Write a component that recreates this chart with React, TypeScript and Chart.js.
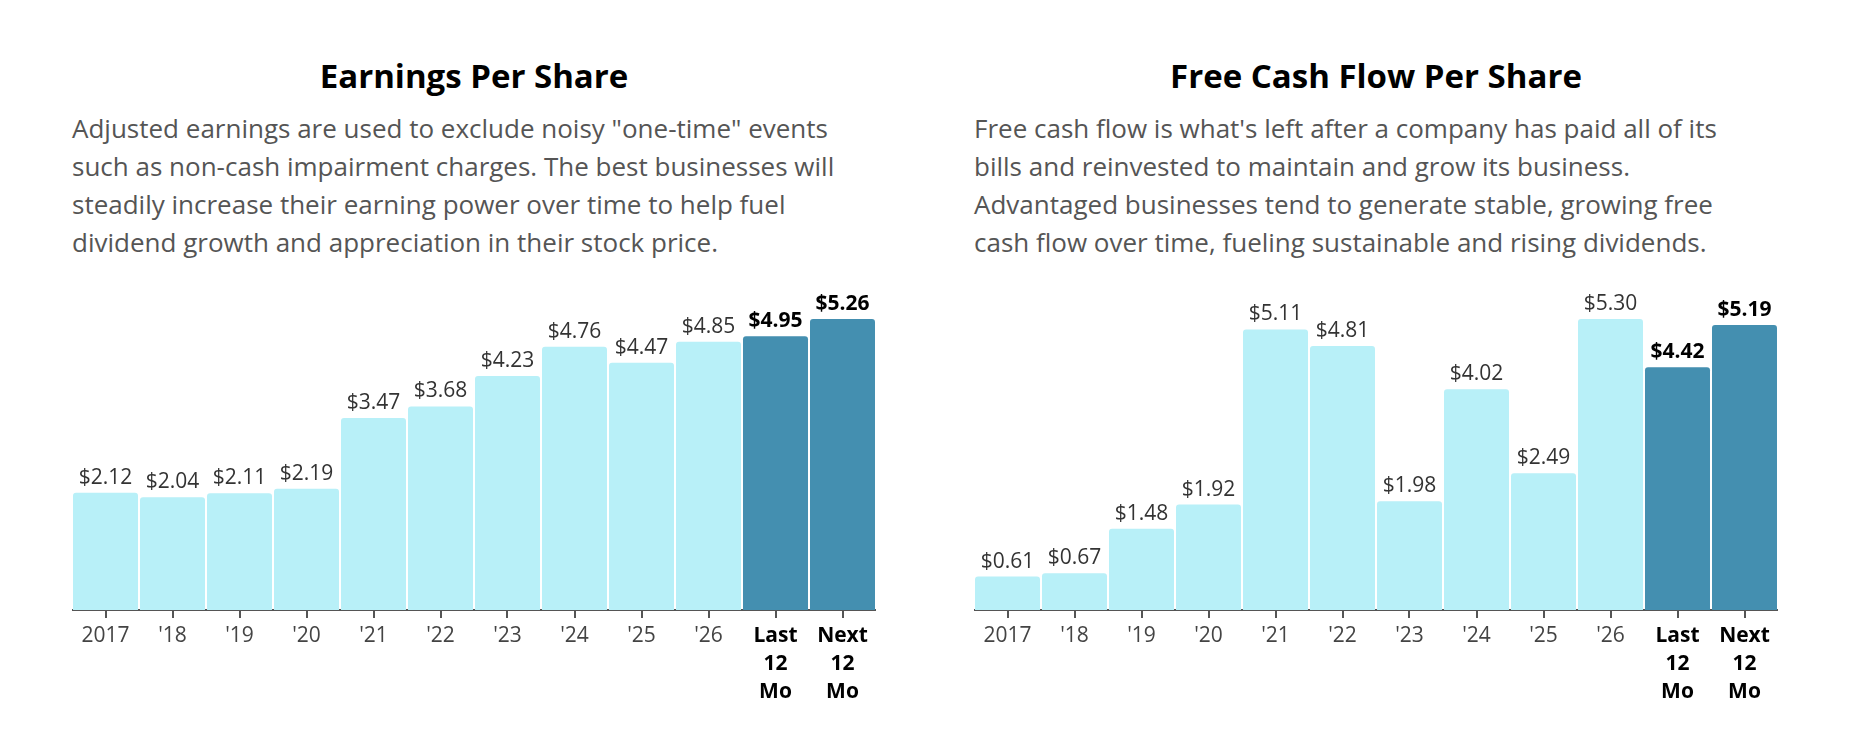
import React, { useRef, useEffect } from 'react';
import { Chart, registerables } from 'chart.js';

Chart.register(...registerables);

const categories: (string | string[])[] = [
  '2017', "'18", "'19", "'20", "'21", "'22", "'23", "'24", "'25", "'26",
  ['Last', '12', 'Mo'], ['Next', '12', 'Mo'],
];

const epsValues = [2.12, 2.04, 2.11, 2.19, 3.47, 3.68, 4.23, 4.76, 4.47, 4.85, 4.95, 5.26];
const fcfValues = [0.61, 0.67, 1.48, 1.92, 5.11, 4.81, 1.98, 4.02, 2.49, 5.30, 4.42, 5.19];

const LIGHT = '#b8f0f8';
const DARK = '#448fb0';
const FONT = '"Open Sans", sans-serif';
const highlighted = (i: number) => i >= 10;

const valueLabels = {
  id: 'valueLabels',
  afterDatasetsDraw(chart: any) {
    const ctx = chart.ctx;
    const meta = chart.getDatasetMeta(0);
    const data = chart.data.datasets[0].data as number[];
    ctx.save();
    ctx.textAlign = 'center';
    ctx.textBaseline = 'alphabetic';
    meta.data.forEach((bar: any, i: number) => {
      ctx.font = `${highlighted(i) ? 'bold ' : ''}21px ${FONT}`;
      ctx.fillStyle = highlighted(i) ? '#000' : '#333';
      ctx.fillText('$' + data[i].toFixed(2), bar.x, bar.y - 9);
    });
    ctx.restore();
  },
};

type BarProps = { values: number[] };

const BarPanel = ({ values }: BarProps) => {
  const canvasRef = useRef<HTMLCanvasElement>(null);

  useEffect(() => {
    const ctx = canvasRef.current?.getContext('2d');
    if (!ctx) return;

    const chart = new Chart(ctx, {
      type: 'bar',
      data: {
        labels: categories,
        datasets: [
          {
            data: values,
            backgroundColor: values.map((_, i) => (highlighted(i) ? DARK : LIGHT)),
            borderRadius: { topLeft: 3, topRight: 3, bottomLeft: 0, bottomRight: 0 },
            borderSkipped: false,
            barPercentage: 0.97,
            categoryPercentage: 1,
          },
        ],
      },
      options: {
        animation: false,
        responsive: false,
        layout: { padding: { top: 59, left: 0, right: 0, bottom: 0 } },
        plugins: { legend: { display: false }, tooltip: { enabled: false } },
        scales: {
          y: { display: false, min: 0, max: Math.max(...values) },
          x: {
            afterFit: (axis: any) => { axis.height = 110; },
            border: { display: true, color: '#555', width: 2 },
            grid: {
              offset: false,
              drawOnChartArea: false,
              drawTicks: true,
              tickLength: 8,
              color: '#555',
              lineWidth: 2,
            },
            ticks: {
              maxRotation: 0,
              autoSkip: false,
              padding: 4,
              color: (c: any) => (highlighted(c.index) ? '#000' : '#444'),
              font: (c: any) => ({
                family: FONT,
                size: 21,
                lineHeight: 1.34,
                weight: highlighted(c.index) ? 'bold' : 'normal',
              }),
            },
          },
        },
      },
      plugins: [valueLabels],
    });

    return () => chart.destroy();
  }, [values]);

  return <canvas ref={canvasRef} width={804} height={460} style={{ position: 'absolute', left: 0, top: 260 }} />;
};

type PanelProps = { left: number; title: string; lines: string[]; values: number[] };

const Panel = ({ left, title, lines, values }: PanelProps) => (
  <div style={{ position: 'absolute', left, top: 0, width: 804, height: 738 }}>
    <div
      style={{
        position: 'absolute', left: 0, top: 60, width: 804, textAlign: 'center',
        font: `bold 33px/32px ${FONT}`, color: '#000',
      }}
    >
      {title}
    </div>
    <div
      style={{
        position: 'absolute', left: 0, top: 109, width: 820, whiteSpace: 'nowrap',
        font: `26px/38px ${FONT}`, color: '#555',
      }}
    >
      {lines.map((l, i) => <div key={i}>{l}</div>)}
    </div>
    <BarPanel values={values} />
  </div>
);

export default function App() {
  return (
    <div style={{ position: 'absolute', left: 0, top: 0, width: 1868, height: 738, background: '#fff' }}>
      <Panel
        left={72}
        title="Earnings Per Share"
        lines={[
          'Adjusted earnings are used to exclude noisy "one-time" events',
          'such as non-cash impairment charges. The best businesses will',
          'steadily increase their earning power over time to help fuel',
          'dividend growth and appreciation in their stock price.',
        ]}
        values={epsValues}
      />
      <Panel
        left={974}
        title="Free Cash Flow Per Share"
        lines={[
          "Free cash flow is what's left after a company has paid all of its",
          "bills and reinvested to maintain and grow its business.",
          'Advantaged businesses tend to generate stable, growing free',
          'cash flow over time, fueling sustainable and rising dividends.',
        ]}
        values={fcfValues}
      />
    </div>
  );
}
